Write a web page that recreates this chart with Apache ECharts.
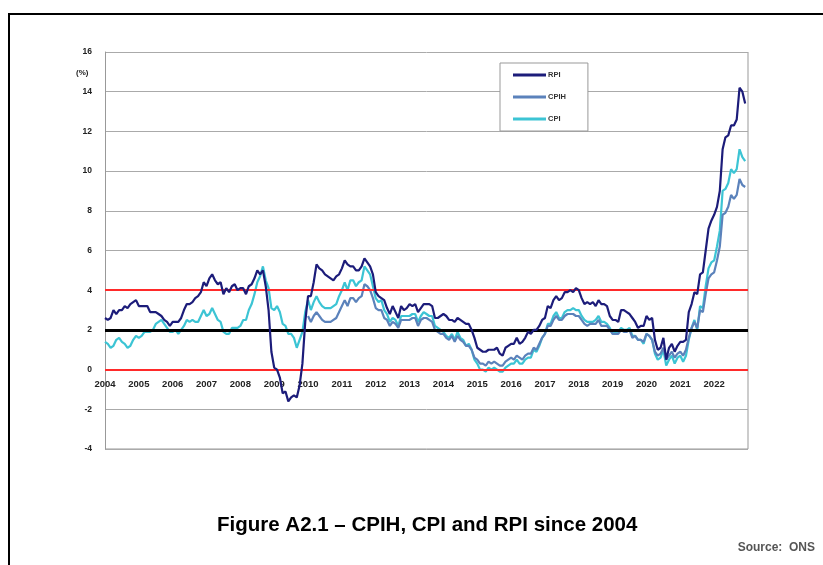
<!DOCTYPE html>
<html>
<head>
<meta charset="utf-8">
<title>Figure A2.1</title>
<script src="https://cdn.jsdelivr.net/npm/echarts@6/dist/echarts.min.js"></script>
<style>
  html, body { margin: 0; padding: 0; background: #fff; }
  #chart { width: 823px; height: 565px; }
</style>
</head>
<body>
<div id="chart"></div>
<script>
// monthly annual rates (%), Jan 2004 - Dec 2022
const startYear = 2004
const yearLabels = ['2004', '2005', '2006', '2007', '2008', '2009', '2010', '2011', '2012', '2013',
  '2014', '2015', '2016', '2017', '2018', '2019', '2020', '2021', '2022']

const rpi = [
  2.6, 2.5, 2.6, 3.0, 2.8, 3.0, 3.0, 3.2, 3.1, 3.3, 3.4, 3.5,
  3.2, 3.2, 3.2, 3.2, 2.9, 2.9, 2.9, 2.8, 2.7, 2.5, 2.4, 2.2,
  2.4, 2.4, 2.4, 2.6, 3.0, 3.3, 3.3, 3.4, 3.6, 3.7, 3.9, 4.4,
  4.2, 4.6, 4.8, 4.5, 4.3, 4.4, 3.8, 4.1, 3.9, 4.2, 4.3, 4.0,
  4.1, 4.1, 3.8, 4.2, 4.3, 4.6, 5.0, 4.8, 5.0, 4.2, 3.0, 0.9,
  0.1, 0.0, -0.4, -1.2, -1.1, -1.6, -1.4, -1.3, -1.4, -0.8, 0.3, 2.4,
  3.7, 3.7, 4.4, 5.3, 5.1, 5.0, 4.8, 4.7, 4.6, 4.5, 4.7, 4.8,
  5.1, 5.5, 5.3, 5.2, 5.2, 5.0, 5.0, 5.2, 5.6, 5.4, 5.2, 4.8,
  3.9, 3.7, 3.6, 3.5, 3.1, 2.8, 3.2, 2.9, 2.6, 3.2, 3.0, 3.1,
  3.3, 3.2, 3.3, 2.9, 3.1, 3.3, 3.3, 3.3, 3.2, 2.6, 2.6, 2.7,
  2.8, 2.7, 2.5, 2.5, 2.4, 2.6, 2.5, 2.4, 2.3, 2.3, 2.0, 1.6,
  1.1, 1.0, 0.9, 0.9, 1.0, 1.0, 1.0, 1.1, 0.8, 0.7, 1.1, 1.2,
  1.3, 1.3, 1.6, 1.3, 1.4, 1.6, 1.9, 1.8, 2.0, 2.0, 2.2, 2.5,
  2.6, 3.2, 3.1, 3.5, 3.7, 3.5, 3.6, 3.9, 3.9, 4.0, 3.9, 4.1,
  4.0, 3.6, 3.3, 3.4, 3.3, 3.4, 3.2, 3.5, 3.3, 3.3, 3.2, 2.7,
  2.5, 2.5, 2.4, 3.0, 3.0, 2.9, 2.8, 2.6, 2.4, 2.1, 2.2, 2.2,
  2.7, 2.5, 2.6, 1.5, 1.0, 1.1, 1.6, 0.5, 1.1, 1.3, 0.9, 1.2,
  1.4, 1.4, 1.5, 2.9, 3.3, 3.9, 3.8, 4.8, 4.9, 6.0, 7.1, 7.5,
  7.8, 8.2, 9.0, 11.1, 11.7, 11.8, 12.3, 12.3, 12.6, 14.2, 14.0, 13.4
]

// CPIH shown from Jan 2010
const cpih = [
  null, null, null, null, null, null, null, null, null, null, null, null,
  null, null, null, null, null, null, null, null, null, null, null, null,
  null, null, null, null, null, null, null, null, null, null, null, null,
  null, null, null, null, null, null, null, null, null, null, null, null,
  null, null, null, null, null, null, null, null, null, null, null, null,
  null, null, null, null, null, null, null, null, null, null, null, null,
  2.7, 2.4, 2.7, 2.9, 2.7, 2.5, 2.4, 2.4, 2.4, 2.5, 2.6, 2.9,
  3.2, 3.5, 3.2, 3.6, 3.6, 3.4, 3.6, 3.7, 4.3, 4.2, 4.0, 3.6,
  3.1, 3.0, 3.0, 2.6, 2.5, 2.2, 2.4, 2.3, 2.1, 2.5, 2.5, 2.5,
  2.5, 2.6, 2.6, 2.2, 2.5, 2.6, 2.6, 2.5, 2.4, 2.0, 1.9, 1.8,
  1.8, 1.6, 1.5, 1.7, 1.4, 1.7, 1.5, 1.4, 1.2, 1.2, 1.0, 0.6,
  0.5, 0.3, 0.3, 0.2, 0.4, 0.3, 0.4, 0.3, 0.2, 0.2, 0.4, 0.5,
  0.6, 0.5, 0.7, 0.6, 0.5, 0.7, 0.8, 0.8, 1.1, 1.0, 1.3, 1.6,
  1.8, 2.2, 2.2, 2.5, 2.7, 2.5, 2.5, 2.7, 2.8, 2.8, 2.8, 2.7,
  2.7, 2.5, 2.3, 2.2, 2.3, 2.3, 2.3, 2.5, 2.2, 2.2, 2.2, 2.0,
  1.8, 1.8, 1.8, 2.0, 1.9, 1.9, 2.0, 1.6, 1.7, 1.5, 1.5, 1.4,
  1.8, 1.7, 1.5, 0.9, 0.7, 0.8, 1.1, 0.5, 0.7, 0.9, 0.6, 0.8,
  0.9, 0.7, 1.0, 1.6, 2.1, 2.4, 2.1, 3.0, 2.9, 3.8, 4.6, 4.8,
  4.9, 5.5, 6.2, 7.8, 7.9, 8.2, 8.8, 8.6, 8.8, 9.6, 9.3, 9.2
]

const cpi = [
  1.4, 1.3, 1.1, 1.2, 1.5, 1.6, 1.4, 1.3, 1.1, 1.2, 1.5, 1.7,
  1.6, 1.7, 1.9, 1.9, 1.9, 2.0, 2.3, 2.4, 2.5, 2.3, 2.1, 1.9,
  1.9, 2.0, 1.8, 2.0, 2.2, 2.5, 2.4, 2.5, 2.4, 2.4, 2.7, 3.0,
  2.7, 2.8, 3.1, 2.8, 2.5, 2.4, 1.9, 1.8, 1.8, 2.1, 2.1, 2.1,
  2.2, 2.5, 2.5, 3.0, 3.3, 3.8, 4.4, 4.7, 5.2, 4.5, 4.1, 3.1,
  3.0, 3.2, 2.9, 2.3, 2.2, 1.8, 1.8, 1.6, 1.1, 1.5, 1.9, 2.9,
  3.5, 3.0, 3.4, 3.7, 3.4, 3.2, 3.1, 3.1, 3.1, 3.2, 3.3, 3.7,
  4.0, 4.4, 4.0, 4.5, 4.5, 4.2, 4.4, 4.5, 5.2, 5.0, 4.8, 4.2,
  3.6, 3.4, 3.5, 3.0, 2.8, 2.4, 2.6, 2.5, 2.2, 2.7, 2.7, 2.7,
  2.7, 2.8, 2.8, 2.4, 2.7, 2.9, 2.8, 2.7, 2.7, 2.2, 2.1, 2.0,
  1.9, 1.7, 1.6, 1.8, 1.5, 1.9, 1.6, 1.5, 1.2, 1.3, 1.0, 0.5,
  0.3, 0.0, 0.0, -0.1, 0.1, 0.0, 0.1, 0.0, -0.1, -0.1, 0.1, 0.2,
  0.3, 0.3, 0.5, 0.3, 0.3, 0.5, 0.6, 0.6, 1.0, 0.9, 1.2, 1.6,
  1.8, 2.3, 2.3, 2.7, 2.9, 2.6, 2.6, 2.9, 3.0, 3.0, 3.1, 3.0,
  3.0, 2.7, 2.5, 2.4, 2.4, 2.4, 2.5, 2.7, 2.4, 2.4, 2.3, 2.1,
  1.8, 1.9, 1.9, 2.1, 2.0, 2.0, 2.1, 1.7, 1.7, 1.5, 1.5, 1.3,
  1.8, 1.7, 1.5, 0.8, 0.5, 0.6, 1.0, 0.2, 0.5, 0.7, 0.3, 0.6,
  0.7, 0.4, 0.7, 1.5, 2.1, 2.5, 2.0, 3.2, 3.1, 4.2, 5.1, 5.4,
  5.5, 6.2, 7.0, 9.0, 9.1, 9.4, 10.1, 9.9, 10.1, 11.1, 10.7, 10.5
]

// reference lines
const upperBand = 4
const target = 2
const lowerBand = 0

function toPoints(arr) {
  return arr.map((v, i) => [startYear + i / 12, v])
}

const chart = echarts.init(document.getElementById('chart'), null, { renderer: 'canvas' })
const fontFamily = 'Liberation Sans, Arial, sans-serif'

chart.setOption({
  animation: false,
  backgroundColor: '#fff',
  grid: { left: 105, right: 75, top: 52, bottom: 116 },
  legend: {
    orient: 'vertical',
    left: 500,
    top: 63,
    data: ['RPI', 'CPIH', 'CPI'],
    icon: 'rect',
    itemWidth: 33,
    itemHeight: 3,
    itemGap: 14,
    padding: [8, 22, 8, 13],
    borderColor: '#999',
    borderWidth: 1,
    backgroundColor: '#fff',
    textStyle: { fontFamily: fontFamily, fontWeight: 'bold', fontSize: 7.5, color: '#333', padding: [0, 0, 0, -3] }
  },
  xAxis: {
    type: 'value',
    min: 2004,
    max: 2023,
    interval: 1,
    // labels sit under the zero line
    offset: -79,
    axisLine: { onZero: false, show: false },
    axisTick: { show: false },
    splitLine: { show: false },
    axisLabel: {
      margin: 9,
      showMaxLabel: false,
      fontFamily: fontFamily,
      fontWeight: 'bold',
      fontSize: 9.5,
      color: '#222',
      formatter: v => yearLabels[Math.round(v) - startYear] || ''
    }
  },
  yAxis: {
    type: 'value',
    min: -4,
    max: 16,
    interval: 2,
    axisLine: { show: true, lineStyle: { color: '#999', width: 1 } },
    axisTick: { show: false },
    splitLine: { show: true, lineStyle: { color: '#aaa', width: 1 } },
    axisLabel: { margin: 13, fontFamily: fontFamily, fontWeight: 'bold', fontSize: 8.5, color: '#222' }
  },
  graphic: [
    { type: 'rect', shape: { x: 9, y: 14, width: 830, height: 570 }, style: { fill: 'none', stroke: '#000', lineWidth: 2 }, silent: true },
    { type: 'line', shape: { x1: 748, y1: 52, x2: 748, y2: 449 }, style: { stroke: '#999', lineWidth: 1 }, silent: true },
    { type: 'line', shape: { x1: 105, y1: 449, x2: 748, y2: 449 }, style: { stroke: '#999', lineWidth: 1 }, silent: true },
    { type: 'text', left: 76, top: 69, style: { text: '(%)', fontFamily: fontFamily, fontWeight: 'bold', fontSize: 8, fill: '#222' } },
    { type: 'text', left: 217, top: 515, style: { text: 'Figure A2.1 – CPIH, CPI and RPI since 2004', fontFamily: fontFamily, fontWeight: 'bold', fontSize: 20.5, fill: '#000' } },
    { type: 'text', right: 8, top: 542, style: { text: 'Source:  ONS', fontFamily: fontFamily, fontWeight: 'bold', fontSize: 12, fill: '#555' } }
  ],
  series: [
    {
      name: 'refs',
      type: 'line',
      data: [],
      silent: true,
      markLine: {
        symbol: 'none',
        silent: true,
        label: { show: false },
        data: [
          { yAxis: upperBand, lineStyle: { color: '#ff2a2a', width: 2, type: 'solid' } },
          { yAxis: lowerBand, lineStyle: { color: '#ff2a2a', width: 2, type: 'solid' } },
          { yAxis: target, lineStyle: { color: '#000', width: 3, type: 'solid' } }
        ]
      },
      z: 1
    },
    {
      name: 'CPI',
      type: 'line',
      data: toPoints(cpi),
      showSymbol: false,
      lineStyle: { color: '#3cc4d4', width: 2.2 },
      itemStyle: { color: '#3cc4d4' },
      z: 3
    },
    {
      name: 'CPIH',
      type: 'line',
      data: toPoints(cpih),
      showSymbol: false,
      lineStyle: { color: '#5b82bb', width: 2.2 },
      itemStyle: { color: '#5b82bb' },
      z: 4
    },
    {
      name: 'RPI',
      type: 'line',
      data: toPoints(rpi),
      showSymbol: false,
      lineStyle: { color: '#1c1c7a', width: 2.2 },
      itemStyle: { color: '#1c1c7a' },
      z: 5
    }
  ]
})
</script>
</body>
</html>
